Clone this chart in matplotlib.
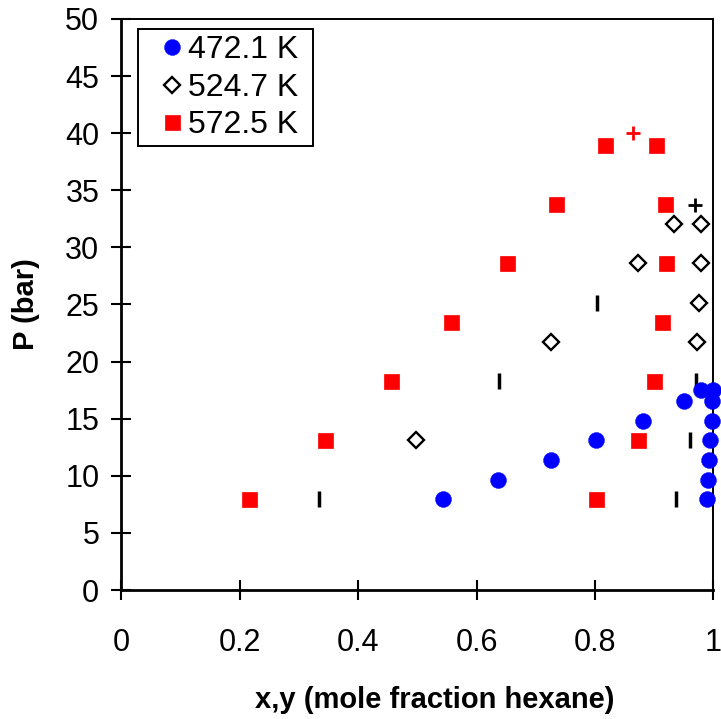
import matplotlib
matplotlib.use("Agg")
import matplotlib.pyplot as plt

plt.rcParams['font.family'] = ['Liberation Sans', 'DejaVu Sans']

# Pressure-composition data for hexane at three temperatures (P in bar)
t472_x = [0.544, 0.637, 0.726, 0.802, 0.881, 0.951, 0.980, 0.999,
          0.9986, 0.998, 0.995, 0.9936, 0.991, 0.989]
t472_p = [7.93, 9.65, 11.38, 13.10, 14.82, 16.55, 17.50, 17.50,
          16.55, 14.82, 13.10, 11.38, 9.65, 7.93]

t524_x = [0.4975, 0.725, 0.872, 0.933, 0.980, 0.979, 0.976, 0.973]
t524_p = [13.10, 21.72, 28.61, 32.06, 32.06, 28.61, 25.16, 21.72]

t572_x = [0.215, 0.344, 0.455, 0.557, 0.651, 0.734, 0.817,
          0.903, 0.919, 0.920, 0.914, 0.900, 0.872, 0.801]
t572_p = [7.93, 13.10, 18.27, 23.44, 28.61, 33.78, 38.95,
          38.95, 33.78, 28.61, 23.44, 18.27, 13.10, 7.93]

# additional measured points (no legend entry)
bar_x = [0.334, 0.638, 0.803, 0.937, 0.960, 0.970]
bar_p = [7.93, 18.27, 25.16, 7.93, 13.10, 18.27]

# critical points
crit524_x, crit524_p = [0.969], [33.74]
crit572_x, crit572_p = [0.864], [40.04]

labels = ['472.1 K', '524.7 K', '572.5 K']
xticks = [0, 0.2, 0.4, 0.6, 0.8, 1]
xticklabels = ['0', '0.2', '0.4', '0.6', '0.8', '1']
yticks = list(range(0, 51, 5))

fig = plt.figure(figsize=(7.21, 7.19), dpi=100)
ax = fig.add_axes([0.1685, 0.1794, 0.8208, 0.7942])

ax.plot(bar_x, bar_p, linestyle='none', marker='|', color='black',
        markersize=11.5, markeredgewidth=2.5, clip_on=False, zorder=3)
h572, = ax.plot(t572_x, t572_p, linestyle='none', marker='s', color='#ff0000',
                markersize=10.8, markeredgewidth=0.5, clip_on=False, zorder=4)
h524, = ax.plot(t524_x, t524_p, linestyle='none', marker='D', markerfacecolor='white',
                markeredgecolor='black', markersize=8, markeredgewidth=1.7,
                clip_on=False, zorder=5)
h472, = ax.plot(t472_x, t472_p, linestyle='none', marker='o', color='#0000ff',
                markersize=11.5, markeredgewidth=0.3, clip_on=False, zorder=6)
ax.plot(crit524_x, crit524_p, linestyle='none', marker='+', color='black',
        markersize=10.5, markeredgewidth=2, zorder=7)
ax.plot(crit572_x, crit572_p, linestyle='none', marker='+', color='#ff0000',
        markersize=10.5, markeredgewidth=2, zorder=7)

ax.set_xlim(0, 1)
ax.set_ylim(0, 50)
ax.set_xticks(xticks)
ax.set_xticklabels(xticklabels)
ax.set_yticks(yticks)

for side in ['left', 'bottom']:
    ax.spines[side].set_linewidth(2.0)
for side in ['top', 'right']:
    ax.spines[side].set_linewidth(1.4)

ax.tick_params(axis='both', direction='inout', length=14, width=1.5,
               labelsize=22, colors='black')
ax.tick_params(axis='x', pad=20)
ax.tick_params(axis='y', pad=9)

ax.set_xlabel('x,y (mole fraction hexane)', fontsize=21, fontweight='bold')
ax.set_ylabel('P (bar)', fontsize=21, fontweight='bold')
ax.xaxis.set_label_coords(0.53, -0.193)
ax.xaxis.label.set_va('center')
ax.yaxis.set_label_coords(-0.161, 0.5)
ax.yaxis.label.set_va('center')

leg = ax.legend([h472, h524, h572], [s + ' ' for s in labels], loc='upper left',
                bbox_to_anchor=(0.0279, 0.9825), borderaxespad=0,
                fontsize=23, frameon=True, fancybox=False, framealpha=1,
                edgecolor='black', handlelength=1.7, handletextpad=-0.35,
                borderpad=0.2, labelspacing=0.23)
leg.get_frame().set_linewidth(1.4)

fig.savefig('out.png', dpi=100)
